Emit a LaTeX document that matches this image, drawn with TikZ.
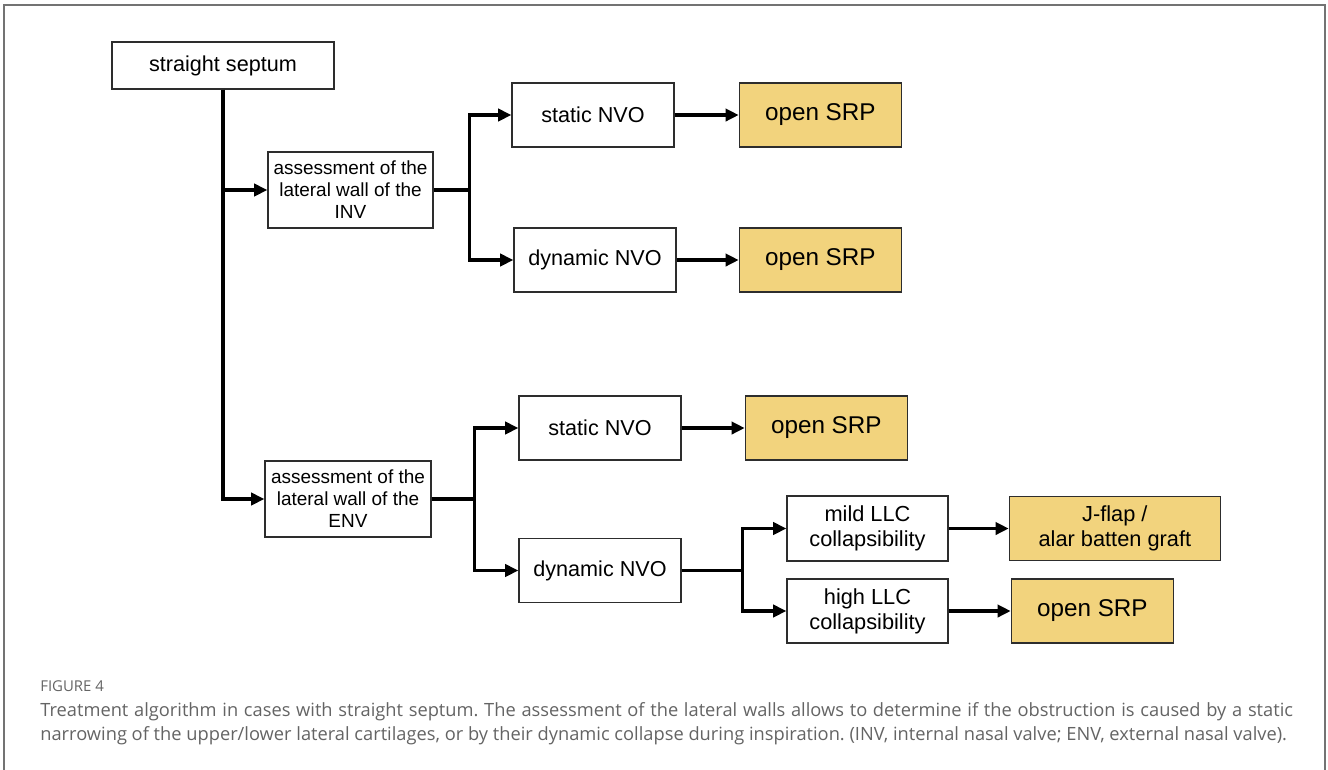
\documentclass[tikz,border=0pt]{standalone}
\usepackage{fontspec}
\usepackage{xcolor}
\usepackage{tikz}
\usetikzlibrary{shapes, arrows.meta, positioning}
\setmainfont{Liberation Sans}
\newfontfamily\capfont{Open Sans}
\definecolor{srpyellow}{RGB}{242,211,125}
\definecolor{boxgray}{RGB}{45,45,45}
\definecolor{framegray}{RGB}{115,115,115}
\definecolor{capgray}{RGB}{100,100,100}

\begin{document}
\begin{tikzpicture}[
            x=0.02cm, y=-0.02cm,
            box/.style={rectangle, draw=boxgray, line width=0.8pt, align=center, inner sep=0pt, minimum width=3.24cm, minimum height=1.28cm, font=\fontsize{12.3}{14}\selectfont},
            small/.style={font=\fontsize{10.8}{12.5}\selectfont},
            llc/.style={font=\fontsize{12.4}{14.2}\selectfont},
            result/.style={box, fill=srpyellow, font=\fontsize{13.8}{15}\selectfont},
            line/.style={line width=1.8pt},
            arrow/.style={line width=1.8pt, ->, >={Triangle[length=7.5pt,width=7pt]}}
        ]
            \useasboundingbox (0,0) rectangle (1328,769);
            \draw[framegray, line width=0.8pt] (4,800) -- (4,5) -- (1325,5) -- (1325,800);

            \node[box, minimum width=4.44cm, minimum height=0.94cm] (septum) at (223,65.5) {straight septum};
            \node[box, small, minimum width=3.3cm, minimum height=1.52cm] (inv) at (350.5,190) {assessment of the\\lateral wall of the\\INV};
            \node[box, small, minimum width=3.32cm, minimum height=1.52cm] (env) at (348,499) {assessment of the\\lateral wall of the\\ENV};

            \node[box] (staticinv) at (593,115) {static NVO};
            \node[result, right=1.28cm of staticinv] (srpstaticinv) {open SRP};
            \node[box] (dyninv) at (595,260) {dynamic NVO};
            \node[result, right=1.24cm of dyninv] (srpdyninv) {open SRP};

            \node[box] (staticenv) at (600,428) {static NVO};
            \node[result, right=1.26cm of staticenv] (srpstaticenv) {open SRP};
            \node[box] (dynenv) at (600,570.5) {dynamic NVO};

            \node[box, llc, minimum width=3.22cm, minimum height=1.3cm] (mild) at (867.5,528.5) {mild LLC\\collapsibility};
            \node[box, llc, minimum width=3.22cm] (high) at (867.5,611) {high LLC\\collapsibility};
            \node[result, llc, minimum width=4.22cm, right=1.2cm of mild] (jflap) {J-flap /\\alar batten graft};
            \node[result, right=1.24cm of high] (srphigh) {open SRP};

            % trunk from the septum
            \draw[arrow] (septum.south) |- (inv.west);
            \draw[arrow] (septum.south) |- (env.west);

            % forks
            \draw[line] (inv.east) -- ++(36,0) coordinate (forkinv);
            \draw[arrow] (forkinv) |- (staticinv.west);
            \draw[arrow] (forkinv) |- (dyninv.west);
            \draw[line] (env.east) -- ++(43,0) coordinate (forkenv);
            \draw[arrow] (forkenv) |- (staticenv.west);
            \draw[arrow] (forkenv) |- (dynenv.west);
            \draw[line] (dynenv.east) -- ++(61,0) coordinate (forkllc);
            \draw[arrow] (forkllc) |- (mild.west);
            \draw[arrow] (forkllc) |- (high.west);

            \draw[arrow] (staticinv) -- (srpstaticinv);
            \draw[arrow] (dyninv) -- (srpdyninv);
            \draw[arrow] (staticenv) -- (srpstaticenv);
            \draw[arrow] (mild) -- (jflap);
            \draw[arrow] (high) -- (srphigh);

            \node[anchor=north west, inner sep=0pt, text=capgray, font=\capfont\fontsize{8.5}{10}\selectfont] (figlabel) at (40,680) {FIGURE 4};
            \node[anchor=north west, inner sep=0pt, text=capgray, text width=25.06cm, align=justify, font=\capfont\fontsize{10.4}{13.6}\selectfont\frenchspacing] (caption) at (40,702) {Treatment algorithm in cases with straight septum. The assessment of the lateral walls allows to determine if the obstruction is caused by a static\linebreak narrowing of the upper/lower lateral cartilages, or by their dynamic collapse during inspiration. (INV, internal nasal valve; ENV, external nasal valve).};
        \end{tikzpicture}
\end{document}
